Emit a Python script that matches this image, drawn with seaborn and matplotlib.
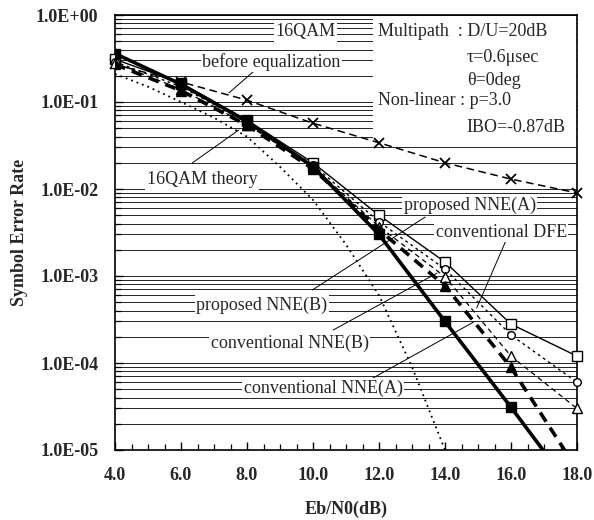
import numpy as np
import pandas as pd
import seaborn as sns
import matplotlib
matplotlib.use("Agg")
import matplotlib.pyplot as plt
from matplotlib.ticker import MultipleLocator, LogLocator, FuncFormatter, NullFormatter
from matplotlib.patches import Rectangle

# ---------------- data ----------------
ebn0 = [4.0, 6.0, 8.0, 10.0, 12.0, 14.0, 16.0, 18.0]
before_eq = [0.27, 0.17, 0.105, 0.057, 0.034, 0.020, 0.013, 0.0090]
conv_dfe = [0.31, 0.165, 0.062, 0.020, 0.0050, 0.00145, 0.00028, 0.00012]
prop_nne_a = [0.29, 0.15, 0.058, 0.019, 0.0042, 0.0012, 0.00021, 0.00006]
conv_nne_b = [0.28, 0.14, 0.055, 0.018, 0.0037, 0.00098, 0.00012, 0.00003]
conv_nne_a = [0.27, 0.135, 0.054, 0.017, 0.0034, 0.00077, 0.000089, 0.000006]
prop_nne_b = [0.36, 0.16, 0.060, 0.018, 0.0030, 0.00030, 0.000031, 0.000003]

theory_x = [4.0, 5.0, 6.0, 7.0, 8.0, 9.0, 10.0, 11.0, 12.0, 13.0, 14.0, 14.5]
theory_y = [0.21, 0.15, 0.10, 0.066, 0.040, 0.018, 0.0075, 0.0023, 0.0006, 0.00009, 0.00001, 0.0000035]

x_ticks = [4.0, 6.0, 8.0, 10.0, 12.0, 14.0, 16.0, 18.0]

# ---------------- style ----------------
sns.set_theme(style="white")
plt.rcParams["font.family"] = ["Liberation Serif", "DejaVu Serif"]
plt.rcParams["axes.linewidth"] = 1.2

fig = plt.figure(figsize=(5.94, 5.20), dpi=100)
ax = fig.add_axes([115 / 594, 1 - 450 / 520, 462 / 594, 435 / 520])

series = [
    (before_eq, dict(linestyle=(0, (5, 3)), linewidth=1.1, marker="x", markersize=7,
                     markeredgewidth=1.3, markerfacecolor="black"), False),
    (conv_dfe, dict(linestyle="-", linewidth=1.0, marker="s", markersize=6.5,
                    markeredgewidth=1.0, markerfacecolor="white"), False),
    (prop_nne_a, dict(linestyle=(0, (2, 2.5)), linewidth=1.0, marker="o", markersize=5.5,
                      markeredgewidth=1.0, markerfacecolor="white"), False),
    (conv_nne_b, dict(linestyle=(0, (4, 3)), linewidth=0.9, marker="^", markersize=6.5,
                      markeredgewidth=1.0, markerfacecolor="white"), False),
    (conv_nne_a, dict(linestyle=(0, (3, 2)), linewidth=2.6, marker="^", markersize=6.5,
                      markeredgewidth=1.0, markerfacecolor="black"), True),
    (prop_nne_b, dict(linestyle="-", linewidth=2.6, marker="s", markersize=6.5,
                      markeredgewidth=1.0, markerfacecolor="black"), True),
]

for vals, kw, clip in series:
    sns.lineplot(x=ebn0, y=vals, ax=ax, color="black", markeredgecolor="black",
                 estimator=None, sort=False, legend=False, zorder=3, clip_on=clip, **kw)

sns.lineplot(x=theory_x, y=theory_y, ax=ax, color="black", linestyle=(0, (1, 2.2)),
             linewidth=1.3, estimator=None, sort=False, legend=False, zorder=3)

# ---------------- axes ----------------
ax.set_yscale("log")
ax.set_xlim(4.0, 18.0)
ax.set_ylim(1e-5, 1.0)

ax.set_xticks(x_ticks)
ax.set_xticklabels([f"{v:.1f}" for v in x_ticks])
ax.xaxis.set_minor_locator(MultipleLocator(0.5))
ax.yaxis.set_major_locator(LogLocator(base=10, numticks=10))
ax.yaxis.set_minor_locator(LogLocator(base=10, subs=np.arange(2, 10), numticks=100))
ax.yaxis.set_minor_formatter(NullFormatter())
ax.yaxis.set_major_formatter(FuncFormatter(
    lambda v, p: f"1.0E{int(np.round(np.log10(v))):+03d}"))

ax.tick_params(which="both", direction="in", color="black", left=True, bottom=True,
               top=False, right=False)
ax.tick_params(which="major", length=6, width=1.0)
ax.tick_params(which="minor", length=4, width=0.9)
ax.tick_params(axis="x", which="major", pad=12, labelsize=13)
ax.tick_params(axis="y", which="major", pad=12, labelsize=13)
for lab in ax.get_xticklabels() + ax.get_yticklabels():
    lab.set_fontweight("bold")

ax.set_axisbelow(True)
ax.grid(False)
ax.grid(True, axis="y", which="both", color="black", linewidth=0.6)

for sp in ax.spines.values():
    sp.set_color("black")
    sp.set_linewidth(1.2)

ax.set_xlabel("Eb/N0(dB)", fontsize=13, fontweight="bold", labelpad=12)
ax.set_ylabel("Symbol Error Rate", fontsize=13, fontweight="bold", labelpad=6)

# white panel behind condition text
ax.add_patch(Rectangle((0.558, 0.713), 0.44, 0.285, transform=ax.transAxes,
                       facecolor="white", edgecolor="none", zorder=1.5))

box = dict(facecolor="white", edgecolor="none", pad=1.0)
tfs = 13
ax.text(9.77, 0.64, "16QAM", fontsize=tfs, ha="center", va="center", bbox=box, zorder=4)
ax.text(8.74, 0.288, "before equalization", fontsize=tfs, ha="center", va="center",
        bbox=box, zorder=4)
ax.text(6.64, 0.0127, "16QAM theory", fontsize=tfs, ha="center", va="center",
        bbox=box, zorder=4)
ax.text(14.75, 0.00655, "proposed NNE(A)", fontsize=tfs, ha="center", va="center",
        bbox=box, zorder=4)
ax.text(15.71, 0.0032, "conventional DFE", fontsize=tfs, ha="center", va="center",
        bbox=box, zorder=4)
ax.text(8.44, 4.64e-4, "proposed NNE(B)", fontsize=tfs, ha="center", va="center",
        bbox=box, zorder=4)
ax.text(9.29, 1.70e-4, "conventional NNE(B)", fontsize=tfs, ha="center", va="center",
        bbox=box, zorder=4)
ax.text(10.31, 5.16e-5, "conventional NNE(A)", fontsize=tfs, ha="center", va="center",
        bbox=box, zorder=4)

ax.text(11.96, 0.64, "Multipath  : D/U=20dB", fontsize=tfs, ha="left", va="center", zorder=4)
ax.text(14.66, 0.329, "τ=0.6μsec", fontsize=tfs, ha="left", va="center", zorder=4)
ax.text(14.66, 0.179, "θ=0deg", fontsize=tfs, ha="left", va="center", zorder=4)
ax.text(11.96, 0.105, "Non-linear : p=3.0", fontsize=tfs, ha="left", va="center", zorder=4)
ax.text(14.66, 0.0503, "IBO=-0.87dB", fontsize=tfs, ha="left", va="center", zorder=4)

leaders = [
    ((8.35, 0.252), (7.45, 0.127)),
    ((6.34, 0.0199), (7.75, 0.0477)),
    ((9.98, 6.9e-4), (13.40, 0.00476)),
    ((15.92, 0.00296), (14.96, 4.28e-4)),
    ((10.61, 2.39e-4), (13.76, 1.08e-3)),
    ((11.81, 6.7e-5), (14.87, 2.96e-4)),
]
for start, end in leaders:
    ax.annotate("", xy=end, xytext=start,
                arrowprops=dict(arrowstyle="-", color="black", lw=0.7,
                                shrinkA=0, shrinkB=0), zorder=3.5)

fig.savefig("out.png", dpi=100)
